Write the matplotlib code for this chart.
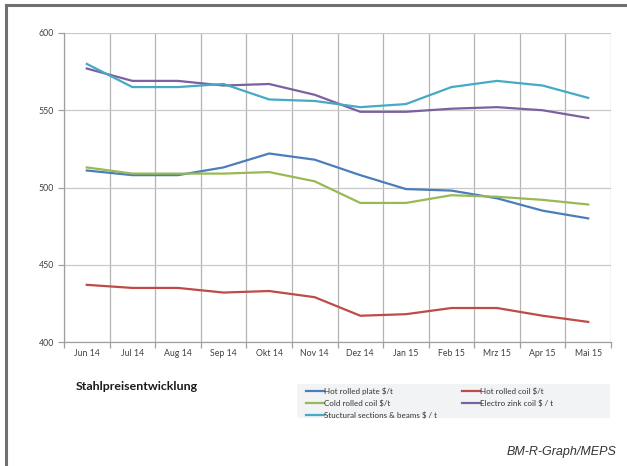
import matplotlib.pyplot as plt
from matplotlib.patches import Rectangle
from matplotlib.lines import Line2D
import numpy as np

# --- DATA ---
months = ["Jun 14", "Jul 14", "Aug 14", "Sep 14", "Okt 14", "Nov 14",
          "Dez 14", "Jan 15", "Feb 15", "Mrz 15", "Apr 15", "Mai 15"]

hot_rolled_plate = [511, 508, 508, 513, 522, 518, 508, 499, 498, 493, 485, 480]
hot_rolled_coil = [437, 435, 435, 432, 433, 429, 417, 418, 422, 422, 417, 413]
cold_rolled_coil = [513, 509, 509, 509, 510, 504, 490, 490, 495, 494, 492, 489]
electro_zink_coil = [577, 569, 569, 566, 567, 560, 549, 549, 551, 552, 550, 545]
structural = [580, 565, 565, 567, 557, 556, 552, 554, 565, 569, 566, 558]

series = [
    ("Hot rolled plate $/t", hot_rolled_plate, "#4a7ebb"),
    ("Hot rolled coil $/t", hot_rolled_coil, "#be4b48"),
    ("Cold rolled coil $/t", cold_rolled_coil, "#98b954"),
    ("Electro zink coil $ / t", electro_zink_coil, "#7d60a0"),
    ("Stuctural sections & beams $ / t", structural, "#46aac5"),
]

FONT = ["Lato", "DejaVu Sans"]

# --- FIGURE ---
fig = plt.figure(figsize=(6.27, 4.66), dpi=100)
fig.patch.set_facecolor("white")

W, H = 627, 466
def fx(px):
    return px / W
def fy(py):
    return 1 - py / H

# border on top and left
fig.add_artist(Line2D([fx(6), 1], [fy(5), fy(5)], color="#707070", lw=2.2))
fig.add_artist(Line2D([fx(6), fx(6)], [fy(5), 0], color="#707070", lw=2.2))

ax = fig.add_axes([fx(64), fy(342), fx(611) - fx(64), fy(33) - fy(342)])

x = np.arange(len(months))
handles = {}
for name, vals, col in series:
    h, = ax.plot(x, vals, color=col, lw=1.6, solid_joinstyle="round", zorder=3)
    handles[name] = h

ax.set_xlim(-0.5, len(months) - 0.5)
ax.set_ylim(400, 600)
ax.set_yticks([400, 450, 500, 550, 600])
ax.set_xticks(x)
ax.set_xticklabels(months)
ax.set_xticks(np.arange(-0.5, len(months), 1), minor=True)

ax.grid(axis="y", color="#c8c8c8", lw=0.9, zorder=0)
ax.grid(axis="x", which="minor", color="#b4b4b4", lw=0.9, zorder=0)
ax.tick_params(axis="x", which="major", length=0, pad=5, labelsize=6.3, labelcolor="#404040")
ax.tick_params(axis="x", which="minor", length=4, color="#a0a0a0", width=0.9)
ax.tick_params(axis="y", length=4, color="#a0a0a0", width=0.9, pad=3,
               labelsize=6.3, labelcolor="#404040")
for lbl in ax.get_xticklabels() + ax.get_yticklabels():
    lbl.set_family(FONT)

for side in ["top", "right"]:
    ax.spines[side].set_visible(False)
ax.spines["left"].set_color("#a0a0a0")
ax.spines["bottom"].set_color("#a0a0a0")
ax.spines["left"].set_linewidth(0.9)
ax.spines["bottom"].set_linewidth(0.9)

# --- TITLE AND SOURCE ---
fig.text(fx(76), fy(386), "Stahlpreisentwicklung", fontsize=8.9, fontweight="bold",
         family=FONT, color="#1a1a1a", va="center", ha="left")
fig.text(fx(616), fy(452), "BM-R-Graph/MEPS", fontsize=9.0, style="italic",
         family=["Liberation Sans", "DejaVu Sans"], color="#333333",
         va="center", ha="right")

# --- LEGEND ---
fig.add_artist(Rectangle((fx(297), fy(418)), fx(610) - fx(297), fy(384) - fy(418),
                         transform=fig.transFigure, facecolor="#f2f3f5",
                         edgecolor="none", zorder=0))
order = ["Hot rolled plate $/t", "Cold rolled coil $/t", "Stuctural sections & beams $ / t",
         "Hot rolled coil $/t", "Electro zink coil $ / t"]
leg = fig.legend([handles[n] for n in order], order, ncol=2,
                 loc="upper left", bbox_to_anchor=(fx(300), fy(381)),
                 frameon=False, handlelength=2.2, handletextpad=0.0,
                 labelspacing=0.55, columnspacing=3.1, borderpad=0.3,
                 prop={"family": FONT, "size": 5.8})
for t in leg.get_texts():
    t.set_color("#333333")

fig.savefig("out.png", dpi=100, facecolor="white")
